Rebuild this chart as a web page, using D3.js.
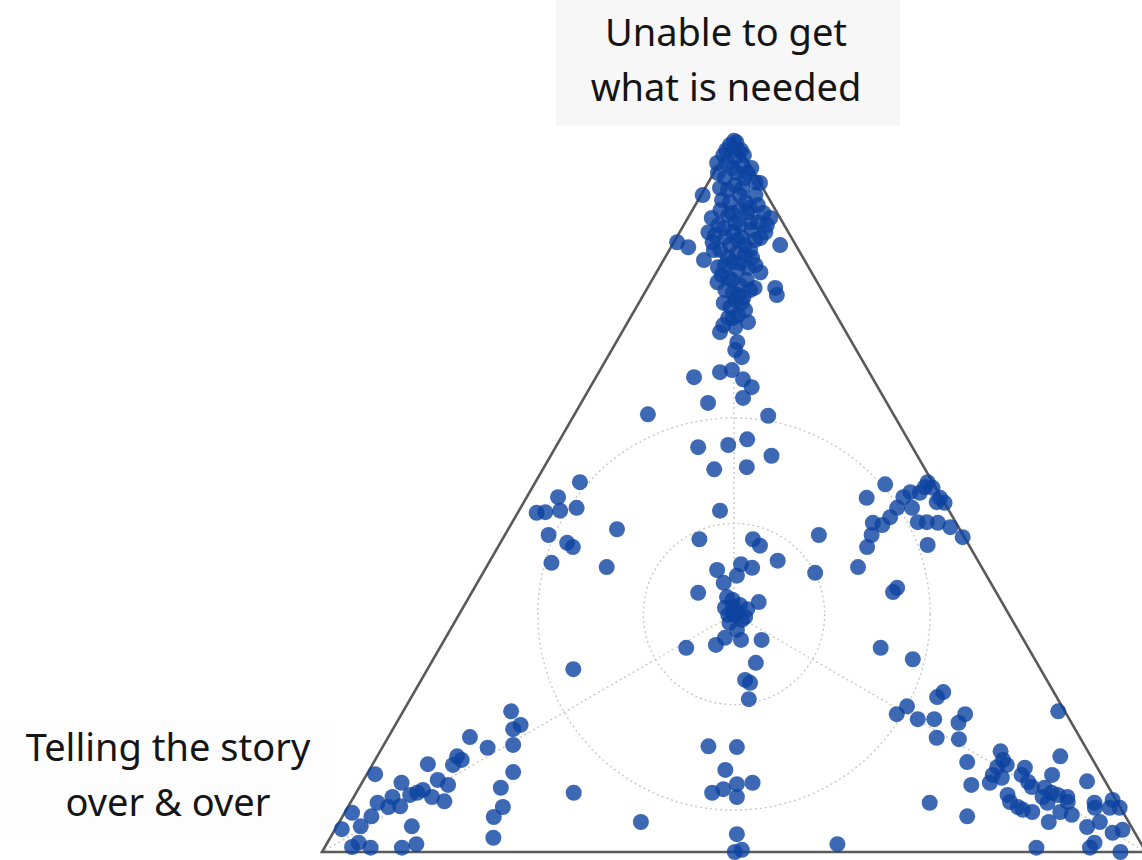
<!DOCTYPE html>
<html>
<head>
<meta charset="utf-8">
<script src="https://cdn.jsdelivr.net/npm/d3@7/dist/d3.min.js"></script>
<style>
  html, body { margin: 0; padding: 0; background: #ffffff; }
  svg { display: block; }
</style>
</head>
<body>
<div id="chart"></div>
<script>
// ---- Vertex labels ----
const topLabel = ["Unable to get", "what is needed"];
const leftLabel = ["Telling the story", "over & over"];

// ---- Reference rings (radius, % of triangle side) ----
const ringRadii = [11.0, 23.8];

// ---- Points: [Unable to get what is needed %, Telling the story over & over %]
// third share = remainder
const topCluster = [
  [99.6,0.2],[99.0,1.0],[98.3,0],[97.6,2.5],[97.3,1.2],[97.6,0],[96.5,3.8],[96.5,2.5],[96.2,0.9],[95.8,0],
  [95.1,4.4],[95.1,2.1],[95.1,0.8],[93.7,0],[92.0,7.8],[92.7,4.4],[93.0,2.5],[92.0,1.4],[91.0,5.0],[91.0,3.1],
  [90.6,1.8],[89.5,5.5],[89.6,3.6],[89.5,1.7],[88.8,1.2],[87.8,8.0],[88.1,5.8],[88.2,3.9],[87.8,2.1],[85.4,14.2],
  [84.7,13.2],[85.4,9.9],[86.1,8.0],[86.1,6.0],[85.7,4.6],[85.0,1.9],[84.3,9.5],[83.9,7.7],[84.3,5.9],[82.9,12.2],
  [81.9,11.0],[83.3,9.1],[82.5,8.0],[83.2,6.2],[81.2,6.2],[79.8,12.1],[80.1,10.2],[80.1,8.4],[79.0,8.0],[79.0,5.5],
  [78.0,5.8],[78.3,11.0],[77.7,10.0],[76.3,12.3],[76.9,10.6],[75.2,11.9],[74.8,13.3],[73.8,14.4],[73.5,13.1],[72.8,15.3],
  [71.4,13.9],[70.3,14.7],[69.3,14.4],[67.2,18.1],[67.5,16.5],
  [89.2,6.1],[87.8,5.4],[86.8,6.7],[85.0,6.2],[82.2,10.0],[81.5,8.8],[81.8,7.4],[85.0,8.0],[79.4,9.6],[78.7,11.7],
  [77.3,11.2],[75.9,10.7],[80.4,10.5],[89.9,6.7],[87.1,4.3],[86.0,3.8],[86.4,9.1],[93.4,3.2],[94.4,1.5],[94.4,3.9],
  [92.0,3.3],[95.8,2.3],[98.3,0.4],[98.3,1.8],[99.4,0],
  [91.3,5.8],[90.2,3.0],[88.8,8.3],[88.2,3.0],[87.4,7.5],[85.7,6.7],[84.3,10.3],[83.6,6.9],[82.6,8.9],[82.2,6.3],
  [80.8,11.1],[78.7,8.7],[78.0,10.5],[76.9,12.8],[74.8,12.7],[74.2,11.2],[86.8,2.8],[86.8,9.7],[89.9,4.3],[93.8,0.5],
  [93.0,5.2]
];
const upperMiddle = [
  [66.2,15.8],[65.1,15.3],[63.6,17.1],[66.5,21.6],[62.9,21.7],[61.3,29.8],[61.1,15.3],[57.8,19.5],[57.0,22.2],[56.7,26.0],
  [55.5,17.7],[53.6,25.6],[53.9,21.5]
];
const middle = [
  [51.8,42.8],[49.7,46.5],[47.5,50.2],[47.6,49.1],[47.8,47.2],[48.2,45.0],[44.4,50.3],[43.3,48.6],[42.7,48.2],[40.5,51.9],
  [45.2,41.6],[39.9,45.5],[47.8,27.8],[43.8,32.3],[43.8,25.8],[42.9,25.4],[40.8,24.3],[44.4,17.5],[39.1,20.6],[40.3,29.0],
  [39.8,27.9],[39.5,32.3],[38.7,30.3],[37.7,32.4],[36.3,36.2],
  [35.7,33.0],[35.3,32.5],[34.6,32.0],[34.0,31.4],[34.2,34.0],[33.5,32.9],[32.5,32.8],[32.1,34.5],[31.1,34.1],[32.9,32.2],
  [34.3,33.0],[33.2,34.1],[33.3,33.3],[33.3,33.3],[33.3,33.3],[33.3,33.3],
  [35.0,29.5],[30.0,36.1],[29.0,37.7],[29.7,34.3],[29.7,31.8],[28.6,41.5],[26.5,34.1],[24.1,36.6],[23.7,36.2],[21.4,37.5],
  [25.6,56.7]
];
const rightCluster = [
  [51.5,5.9],[49.6,9.1],[49.7,4.6],[50.4,3.4],[50.3,2.3],[51.8,0.6],[51.0,0.4],[51.1,1.3],[49.6,0.2],[48.9,0],
  [49.0,0.9],[48.2,6.1],[46.9,7.6],[45.8,9.1],[46.1,10.1],[44.4,11.1],[42.7,12.5],[48.2,4.3],[46.2,4.6],[46.2,3.5],
  [46.1,2.2],[45.5,1.0],[44.1,0.2],[43.0,5.0],[39.9,15.0],[36.4,12.5],[37.0,11.7],[28.6,17.9],[27.0,14.8]
];
const bottomLeft = [
  [19.7,67.2],[17.2,68.2],[17.8,67.0],[16.1,74.0],[14.6,72.6],[15.0,69.3],[13.4,76.9],[12.2,78.0],[12.9,76.6],[12.3,81.0],
  [11.2,71.2],[10.9,88.1],[9.7,85.5],[10.1,80.9],[9.4,80.0],[8.7,83.4],[7.7,82.8],[8.3,84.3],[8.0,85.3],[7.7,87.6],
  [6.3,88.8],[6.4,87.3],[6.9,89.8],[7.1,81.6],[9.0,73.8],[6.3,74.9],[4.9,76.7],[2.0,78.2],[5.5,93.6],[5.0,91.5],
  [3.6,93.5],[3.2,96.0],[3.6,87.3],[0.7,96.0],[1.3,94.9],[0.6,93.8],[0.6,90.0],[1.1,88.0],[8.3,65.3],[4.2,59.2]
];
const bottomCenter = [
  [14.8,45.7],[14.7,42.3],[11.5,45.3],[8.3,48.5],[8.8,46.9],[9.5,44.9],[9.7,42.9],[7.7,45.8],[2.5,48.4],[0,49.9],
  [0.3,48.9],[1.1,36.9]
];
const bottomRight = [
  [22.4,13.4],[21.7,14.5],[20.4,18.8],[19.3,20.6],[18.6,18.4],[18.6,16.4],[19.3,12.3],[18.1,13.7],[16.0,17.4],[15.8,14.8],
  [19.7,0.8],[12.6,15.4],[9.4,16.5],[14.1,10.6],[12.9,10.9],[11.9,12.1],[12.2,10.8],[10.8,13.2],[9.7,14.1],[10.4,12.3],
  [13.4,3.7],[11.8,8.8],[10.8,9.7],[9.8,9.4],[9.1,9.3],[10.8,6.0],[8.0,12.8],[7.0,13.0],[6.3,12.4],[5.9,12.0],
  [5.6,11.0],[9.0,7.8],[8.3,7.3],[8.0,6.7],[7.7,5.7],[7.0,6.0],[7.7,8.7],[6.9,8.5],[5.6,7.6],[5.2,6.4],
  [4.2,9.7],[9.9,2.2],[6.9,2.8],[6.2,3.1],[4.2,3.5],[3.5,5.4],[7.3,0.4],[6.2,1.3],[6.2,0.1],[3.1,1.3],
  [2.7,2.7],[1.3,5.6],[0.6,6.5],[0,3.1],[0.6,13.0],[5.0,19.2],[6.9,22.8]
];

const allPoints = [].concat(topCluster, upperMiddle, middle, rightCluster, bottomLeft, bottomCenter, bottomRight);

// ---- Layout ----
const W = 1142, H = 860;
const svg = d3.select("#chart").append("svg").attr("width", W).attr("height", H);

// horizontal position along base (0 = "Telling" vertex, 100 = third vertex)
const x = d3.scaleLinear().domain([0, 100]).range([322, 1146]);
// "Unable" share -> vertical position
const y = d3.scaleLinear().domain([0, 100]).range([852, 138]);

function project(unable, telling) {
  const other = 100 - unable - telling;
  return [x(other + unable / 2), y(unable)];
}

const vTop = project(100, 0), vLeft = project(0, 100), vRight = project(0, 0);
const center = project(100 / 3, 100 / 3);

// label backgrounds
svg.append("rect").attr("x", 556).attr("y", 0).attr("width", 344).attr("height", 126).attr("fill", "#f7f7f7");
svg.append("rect").attr("x", 0).attr("y", 722).attr("width", 336).attr("height", 118).attr("fill", "#fdfdfd");

// rings
const grid = svg.append("g").attr("fill", "none").attr("stroke", "#c8c8c8")
  .attr("stroke-width", 1.4).attr("stroke-dasharray", "2,3");
ringRadii.forEach(r => {
  grid.append("circle").attr("cx", center[0]).attr("cy", center[1]).attr("r", x(r) - x(0));
});
[vTop, vLeft, vRight].forEach(v => {
  grid.append("line").attr("x1", center[0]).attr("y1", center[1]).attr("x2", v[0]).attr("y2", v[1]);
});

// triangle
svg.append("path")
  .attr("d", d3.line()([vTop, vLeft, vRight]) + "Z")
  .attr("fill", "none").attr("stroke", "#5a5a5a").attr("stroke-width", 2.6).attr("stroke-linejoin", "miter");

// points
svg.append("g").selectAll("circle").data(allPoints).join("circle")
  .attr("cx", d => project(d[0], d[1])[0])
  .attr("cy", d => project(d[0], d[1])[1])
  .attr("r", 8)
  .attr("fill", "rgb(12,66,160)")
  .attr("fill-opacity", 0.8);

// labels
function label(lines, cx, baseline) {
  const t = svg.append("text").attr("text-anchor", "middle")
    .attr("font-family", "'Noto Sans', sans-serif").attr("font-size", 38).attr("fill", "#151515");
  lines.forEach((s, i) => t.append("tspan").attr("x", cx).attr("y", baseline + i * 55).text(s));
}
label(topLabel, 726, 46);
label(leftLabel, 168, 761);
</script>
</body>
</html>
